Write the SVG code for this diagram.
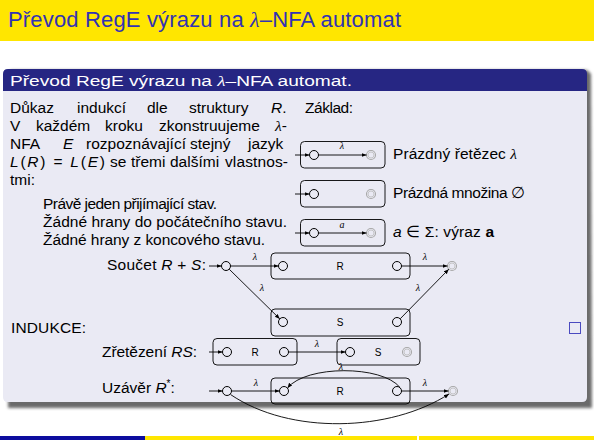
<svg xmlns="http://www.w3.org/2000/svg" width="594" height="440" viewBox="0 0 594 440">
  <defs>
    <marker id="arr" markerUnits="userSpaceOnUse" markerWidth="6" markerHeight="5" refX="5" refY="2" orient="auto">
      <path d="M0,0 L5,2 L0,4 z" fill="#000"/>
    </marker>
    <filter id="shadow" x="-5%" y="-5%" width="110%" height="110%">
      <feGaussianBlur stdDeviation="1.6"/>
    </filter>
    <style>
      .t { font-family: "Liberation Sans", Arial, sans-serif; font-size: 15.5px; fill: #000; }
      .i { font-style: italic; }
      .m { font-family: "Liberation Serif", "Times New Roman", serif; font-style: italic; }
      .lbl { font-family: "Liberation Serif", "Times New Roman", serif; font-style: italic; font-size: 10px; fill: #000; text-anchor: middle; }
      .bx { font-family: "Liberation Sans", Arial, sans-serif; font-size: 10px; fill: #000; text-anchor: middle; }
      .box { fill: none; stroke: #000; stroke-width: 0.9; }
      .st { fill: none; stroke: #000; stroke-width: 1; }
      .fo { fill: none; stroke: #a8a8a8; stroke-width: 1.1; }
      .fi { fill: none; stroke: #bcbcbc; stroke-width: 0.8; }
      .e { fill: none; stroke: #000; stroke-width: 0.9; marker-end: url(#arr); }
    </style>
  </defs>

  <rect width="594" height="440" fill="#fff"/>

  <!-- frame title -->
  <rect x="0" y="0" width="594" height="41" fill="#ffe600"/>
  <text x="8" y="27" font-family="Liberation Sans, Arial, sans-serif" font-size="22" fill="#3333b3" textLength="393">Převod RegE výrazu na <tspan class="m">λ</tspan>–NFA automat</text>

  <!-- block with shadow -->
  <path d="M8,74 Q8,69 13,69 L587,69 L591,73 L592,407 L8,407 z" fill="#6a6a6a" filter="url(#shadow)" transform="translate(0,1)"/>
  <path d="M3,91 L587,91 L587,397 Q587,402 582,402 L8,402 Q3,402 3,397 z" fill="#eaeaf4"/>
  <path d="M3,91 L3,74 Q3,69 8,69 L582,69 Q587,69 587,74 L587,91 z" fill="#262683"/>
  <text x="10" y="86" font-family="Liberation Sans, Arial, sans-serif" font-size="15.5" fill="#fff" textLength="342" lengthAdjust="spacingAndGlyphs">Převod RegE výrazu na <tspan class="m">λ</tspan>–NFA automat.</text>

  <!-- proof text, justified word by word -->
  <g id="proof">
    <text class="t" x="10" y="113">Důkaz</text>
    <text class="t" x="77" y="113">indukcí</text>
    <text class="t" x="147" y="113">dle</text>
    <text class="t" x="189" y="113">struktury</text>
    <text class="t" x="271" y="113"><tspan class="i">R</tspan>.</text>

    <text class="t" x="10" y="131">V</text>
    <text class="t" x="36" y="131">každém</text>
    <text class="t" x="105" y="131">kroku</text>
    <text class="t" x="159" y="131">zkonstruujeme</text>
    <text class="t" x="275" y="131"><tspan class="m">λ</tspan>-</text>

    <text class="t" x="10" y="149">NFA</text>
    <text class="t i" x="63" y="149">E</text>
    <text class="t" x="86" y="149">rozpoznávající</text>
    <text class="t" x="190" y="149">stejný</text>
    <text class="t" x="248" y="149">jazyk</text>

    <text class="t" x="10" y="167" textLength="95"><tspan class="i">L</tspan>(<tspan class="i">R</tspan>) = <tspan class="i">L</tspan>(<tspan class="i">E</tspan>)</text>
    <text class="t" x="110" y="167">se</text>
    <text class="t" x="131" y="167">třemi</text>
    <text class="t" x="170" y="167">dalšími</text>
    <text class="t" x="225" y="167" textLength="63">vlastnos-</text>

    <text class="t" x="10" y="185">tmi:</text>

    <text class="t" x="43" y="209" textLength="174">Právě jeden přijímající stav.</text>
    <text class="t" x="43" y="227" textLength="244">Žádné hrany do počátečního stavu.</text>
    <text class="t" x="43" y="245" textLength="222">Žádné hrany z koncového stavu.</text>

    <text class="t" x="107" y="270" textLength="99">Součet <tspan class="i">R</tspan> + <tspan class="i">S</tspan>:</text>
    <text class="t" x="11" y="333" textLength="75">INDUKCE:</text>
    <text class="t" x="102" y="357" textLength="95">Zřetězení <tspan class="i">RS</tspan>:</text>
    <text class="t" x="102" y="393">Uzávěr <tspan class="i">R</tspan><tspan font-size="10" dy="-6">*</tspan><tspan dy="6">:</tspan></text>

    <text class="t" x="305" y="113" textLength="48">Základ:</text>
    <text class="t" x="393" y="159" textLength="124">Prázdný řetězec <tspan class="m">λ</tspan></text>
    <text class="t" x="393" y="198" textLength="132">Prázdná množina ∅</text>
    <text class="t" x="393" y="237" textLength="101"><tspan class="i">a</tspan> ∈ Σ:  výraz <tspan font-weight="bold">a</tspan></text>
  </g>

  <!-- QED box -->
  <rect x="569.5" y="322.5" width="11" height="11" fill="none" stroke="#4a4ac0" stroke-width="1"/>

  <!-- basis: empty string -->
  <g id="basis-lambda">
    <rect class="box" x="300.5" y="141.5" width="84.5" height="26.5" rx="4"/>
    <circle class="st" cx="314" cy="155" r="4.5"/>
    <circle class="fo" cx="371" cy="155" r="4.5"/>
    <circle class="fi" cx="371" cy="155" r="3"/>
    <text class="lbl" x="342" y="149">λ</text>
  </g>
  <!-- basis: empty set -->
  <g id="basis-empty">
    <rect class="box" x="300.5" y="180.5" width="84.5" height="26.5" rx="4"/>
    <circle class="st" cx="314" cy="194" r="4.5"/>
    <circle class="fo" cx="371" cy="194" r="4.5"/>
    <circle class="fi" cx="371" cy="194" r="3"/>
  </g>
  <!-- basis: single symbol -->
  <g id="basis-a">
    <rect class="box" x="300.5" y="219.5" width="84.5" height="26.5" rx="4"/>
    <circle class="st" cx="314" cy="233" r="4.5"/>
    <circle class="fo" cx="371" cy="233" r="4.5"/>
    <circle class="fi" cx="371" cy="233" r="3"/>
    <text class="lbl" x="342" y="228">a</text>
  </g>

  <!-- union R + S -->
  <g id="union">
    <circle class="st" cx="226" cy="266" r="4.5"/>
    <rect class="box" x="271" y="253" width="139" height="26" rx="4"/>
    <circle class="st" cx="283" cy="266" r="4.5"/>
    <circle class="st" cx="397" cy="266" r="4.5"/>
    <text class="bx" x="340" y="269.5">R</text>
    <rect class="box" x="271" y="309" width="139" height="27" rx="4"/>
    <circle class="st" cx="283" cy="322" r="4.5"/>
    <circle class="st" cx="397" cy="322" r="4.5"/>
    <text class="bx" x="340" y="325.5">S</text>
    <circle class="fo" cx="452" cy="266" r="4.5"/>
    <circle class="fi" cx="452" cy="266" r="3"/>
    <text class="lbl" x="255" y="260">λ</text>
    <text class="lbl" x="425" y="260">λ</text>
    <text class="lbl" x="262" y="291">λ</text>
    <text class="lbl" x="418" y="291">λ</text>
  </g>

  <!-- concatenation RS -->
  <g id="concat">
    <rect class="box" x="213" y="338.5" width="84" height="26.5" rx="4"/>
    <circle class="st" cx="227" cy="352" r="4.5"/>
    <circle class="st" cx="284" cy="352" r="4.5"/>
    <text class="bx" x="255" y="355.5">R</text>
    <rect class="box" x="337" y="338.5" width="83" height="26.5" rx="4"/>
    <circle class="st" cx="350" cy="352" r="4.5"/>
    <circle class="fo" cx="407" cy="352" r="4.5"/>
    <circle class="fi" cx="407" cy="352" r="3"/>
    <text class="bx" x="378" y="355.5">S</text>
    <text class="lbl" x="317" y="347">λ</text>
  </g>

  <!-- closure R* -->
  <g id="closure">
    <circle class="st" cx="227" cy="391" r="4.5"/>
    <rect class="box" x="271" y="378" width="139" height="26" rx="4"/>
    <circle class="st" cx="284" cy="391" r="4.5"/>
    <circle class="st" cx="397" cy="391" r="4.5"/>
    <text class="bx" x="340" y="394.5">R</text>
    <circle class="fo" cx="453" cy="391" r="4.5"/>
    <circle class="fi" cx="453" cy="391" r="3"/>
    <text class="lbl" x="256" y="386">λ</text>
    <text class="lbl" x="425" y="386">λ</text>
    <text class="lbl" x="341" y="370">λ</text>
    <text class="lbl" x="341" y="435">λ</text>
  </g>

  <!-- connectors -->
  <g id="edges">
    <line class="e" x1="295" y1="155" x2="309.5" y2="155"/>
    <line class="e" x1="318.5" y1="155" x2="366.5" y2="155"/>
    <line class="e" x1="295" y1="194" x2="309.5" y2="194"/>
    <line class="e" x1="295" y1="233" x2="309.5" y2="233"/>
    <line class="e" x1="318.5" y1="233" x2="366.5" y2="233"/>

    <line class="e" x1="209" y1="266" x2="221.5" y2="266"/>
    <line class="e" x1="230.5" y1="266" x2="278.5" y2="266"/>
    <line class="e" x1="401.5" y1="266" x2="447.5" y2="266"/>
    <line class="e" x1="229.2" y1="269.2" x2="279.8" y2="318.9"/>
    <line class="e" x1="400.2" y1="318.8" x2="448.8" y2="269.2"/>

    <line class="e" x1="209" y1="352" x2="222.5" y2="352"/>
    <line class="e" x1="288.5" y1="352" x2="345.5" y2="352"/>

    <line class="e" x1="209" y1="391" x2="222.5" y2="391"/>
    <line class="e" x1="231.5" y1="391" x2="279.5" y2="391"/>
    <line class="e" x1="401.5" y1="391" x2="448.5" y2="391"/>
    <path class="e" d="M400,387.5 C382,365 306,365 287.5,388"/>
    <path class="e" d="M230.5,394.5 C290,435 390,432 449,394"/>
  </g>

  <!-- footer bar -->
  <rect x="0" y="436" width="145" height="4" fill="#0d0d9e"/>
  <rect x="145" y="436" width="272" height="4" fill="#ffe600"/>
  <rect x="419" y="436" width="175" height="4" fill="#ffe600"/>
</svg>
